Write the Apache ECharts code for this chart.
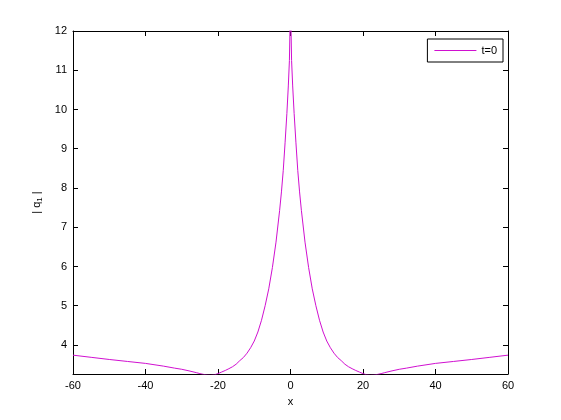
<!DOCTYPE html>
<html>
<head>
<meta charset="utf-8">
<script src="https://cdn.jsdelivr.net/npm/echarts@6/dist/echarts.min.js"></script>
<style>
  html, body { margin: 0; padding: 0; background: #fff; }
  #chart { width: 561px; height: 420px; }
</style>
</head>
<body>
<div id="chart"></div>
<script>
// x positions and |q1| values at t=0
var xs = [-60, -55, -50, -45, -40, -35, -32, -30, -28, -26, -25, -24, -23, -22, -21, -20,
  -19, -18, -17, -16, -15, -14, -13, -12, -11, -10, -9, -8, -7, -6, -5, -4, -3, -2.5, -2,
  -1.5, -1, -0.6, -0.3, 0,
  0.3, 0.6, 1, 1.5, 2, 2.5, 3, 4, 5, 6, 7, 8, 9, 10, 11, 12, 13, 14, 15, 16, 17, 18, 19,
  20, 21, 22, 23, 24, 25, 26, 28, 30, 32, 35, 40, 45, 50, 55, 60];
var q1 = [3.74, 3.685, 3.63, 3.58, 3.53, 3.46, 3.41, 3.38, 3.34, 3.295, 3.27, 3.25, 3.235, 3.23, 3.24, 3.27,
  3.31, 3.35, 3.395, 3.445, 3.51, 3.6, 3.68, 3.79, 3.93, 4.1, 4.33, 4.63, 5.0, 5.43, 5.97, 6.62, 7.43, 7.9, 8.45,
  9.15, 9.9, 10.6, 11.25, 12.8,
  11.25, 10.6, 9.9, 9.15, 8.45, 7.9, 7.43, 6.62, 5.97, 5.43, 5.0, 4.63, 4.33, 4.1, 3.93, 3.79, 3.68, 3.6, 3.51, 3.445, 3.395, 3.35, 3.31,
  3.27, 3.24, 3.23, 3.235, 3.25, 3.27, 3.295, 3.34, 3.38, 3.41, 3.46, 3.53, 3.58, 3.63, 3.685, 3.74];
var yTicks = [4, 5, 6, 7, 8, 9, 10, 11, 12];
var xTicks = [-60, -40, -20, 0, 20, 40, 60];
var seriesName = 't=0';

var font = 'Liberation Sans, Arial, sans-serif';
var chart = echarts.init(document.getElementById('chart'));

function boxAxis(extra) {
  return Object.assign({
    type: 'value',
    axisLine: { show: true, onZero: false, lineStyle: { color: '#000', width: 1 } },
    axisTick: { show: true, inside: true, length: 5, lineStyle: { color: '#000' } },
    splitLine: { show: false },
    axisLabel: { show: false }
  }, extra);
}

chart.setOption({
  animation: false,
  backgroundColor: '#fff',
  grid: { left: 73, right: 53, top: 31, bottom: 46 },
  legend: {
    right: 58, top: 39,
    padding: [6, 6, 6, 7],
    borderColor: '#000', borderWidth: 1, backgroundColor: '#fff',
    itemWidth: 42, itemHeight: 1, itemGap: 4,
    textStyle: { color: '#000', fontSize: 11, fontFamily: font },
    data: [{ name: seriesName, icon: 'rect' }]
  },
  xAxis: [
    boxAxis({
      min: -60, max: 60, interval: 20, position: 'bottom',
      name: 'x', nameLocation: 'middle', nameGap: 22,
      nameTextStyle: { color: '#000', fontSize: 11, fontFamily: font },
      axisTick: { show: true, inside: true, length: 5, lineStyle: { color: '#000' }, customValues: xTicks },
      axisLabel: { show: true, color: '#000', fontSize: 11, fontFamily: font, margin: 6, customValues: xTicks }
    }),
    boxAxis({ min: -60, max: 60, interval: 20, position: 'top',
      axisTick: { show: true, inside: true, length: 5, lineStyle: { color: '#000' }, customValues: xTicks } })
  ],
  yAxis: [
    boxAxis({
      min: 3.26, max: 12, position: 'left',
      name: '{a|| q}{s|1}{a| |}', nameLocation: 'middle', nameGap: 29, nameRotate: 90,
      nameTextStyle: {
        rich: {
          a: { color: '#000', fontSize: 11, fontFamily: font },
          s: { color: '#000', fontSize: 8, fontFamily: font, padding: [6, 0, 0, 0] }
        }
      },
      axisTick: { show: true, inside: true, length: 5, lineStyle: { color: '#000' }, customValues: yTicks },
      axisLabel: { show: true, color: '#000', fontSize: 11, fontFamily: font, margin: 6, customValues: yTicks }
    }),
    boxAxis({ min: 3.26, max: 12, position: 'right',
      axisTick: { show: true, inside: true, length: 5, lineStyle: { color: '#000' }, customValues: yTicks } })
  ],
  series: [{
    name: seriesName,
    type: 'line',
    xAxisIndex: 0, yAxisIndex: 0,
    data: xs.map(function (x, i) { return [x, q1[i]]; }),
    symbol: 'none',
    showSymbol: false,
    smooth: false,
    clip: true,
    lineStyle: { color: '#d010d0', width: 1 },
    itemStyle: { color: '#d010d0' }
  }]
});
</script>
</body>
</html>
